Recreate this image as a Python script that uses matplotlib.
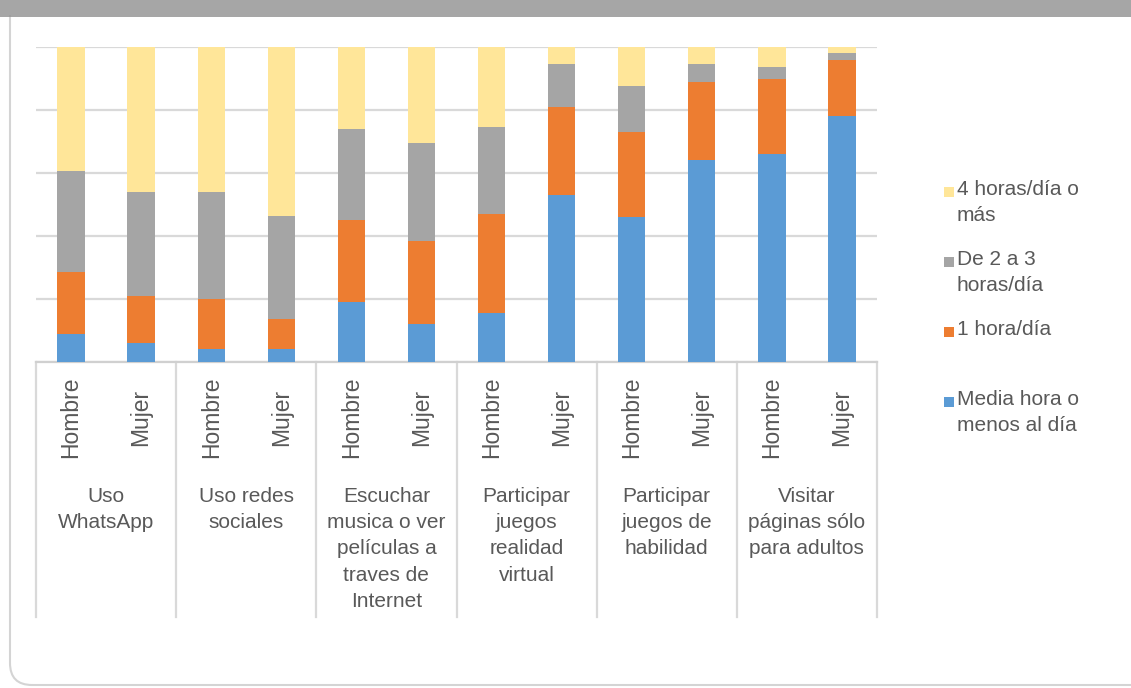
import matplotlib
matplotlib.use("Agg")
import matplotlib.pyplot as plt
import matplotlib.transforms as mtransforms
from matplotlib.patches import Rectangle, FancyBboxPatch
import numpy as np

plt.rcParams['font.family'] = ['Liberation Sans', 'DejaVu Sans']

# Activities (top-level category) and sex (sub-category)
activities = ["Uso\nWhatsApp", "Uso redes\nsociales",
              "Escuchar\nmusica o ver\npelículas a\ntraves de\nInternet",
              "Participar\njuegos\nrealidad\nvirtual",
              "Participar\njuegos de\nhabilidad",
              "Visitar\npáginas sólo\npara adultos"]
sexes = ["Hombre", "Mujer"]

# Percentage of respondents per time band, one value per bar (Hombre, Mujer, ...)
media_hora = [9, 6, 4, 4, 19, 12, 15.5, 53, 46, 64, 66, 78]
una_hora = [19.5, 15, 16, 9.5, 26, 26.5, 31.5, 28, 27, 25, 24, 18]
dos_tres_horas = [32, 33, 34, 33, 29, 31, 27.5, 13.5, 14.5, 5.5, 3.5, 2]
cuatro_horas = [39.5, 46, 46, 53.5, 26, 30.5, 25.5, 5.5, 12.5, 5.5, 6.5, 2]

series_labels = ["Media hora o\nmenos al día", "1 hora/día",
                 "De 2 a 3\nhoras/día", "4 horas/día o\nmás"]
series_colors = ["#5b9bd5", "#ed7d31", "#a5a5a5", "#ffe699"]

text_color = "#595959"
fs = 15
lsp = 1.48

W, H = 1131, 688
fig = plt.figure(figsize=(W / 100, H / 100), dpi=100)

# rounded card border and grey header strip
card = FancyBboxPatch((10, 3), W + 40, H + 20, boxstyle="round,pad=0,rounding_size=22",
                      transform=mtransforms.IdentityTransform(),
                      facecolor="white", edgecolor="#d4d4d4", linewidth=1.5, zorder=-5)
fig.add_artist(card)
fig.add_artist(Rectangle((0, 1 - 15 / H), 1, 15 / H, transform=fig.transFigure,
                         facecolor="#a6a6a6", edgecolor="none", zorder=-4))
fig.add_artist(plt.Line2D([0, 1], [1 - 15.5 / H, 1 - 15.5 / H], transform=fig.transFigure,
                          color="#959595", linewidth=1.2, zorder=-4))

ax = fig.add_axes([36 / W, 1 - 362 / H, (877 - 36) / W, 315 / H])
ax.patch.set_visible(False)

data = np.array([media_hora, una_hora, dos_tres_horas, cuatro_horas], dtype=float)
data = data / data.sum(axis=0) * 100
x = np.arange(data.shape[1])
bottom = np.zeros(data.shape[1])
for vals, color in zip(data, series_colors):
    ax.bar(x, vals, width=0.39, bottom=bottom, color=color, zorder=3)
    bottom += vals

ax.set_xlim(-0.5, len(x) - 0.5)
ax.set_ylim(0, 100)
ax.set_yticks([0, 20, 40, 60, 80, 100])
ax.yaxis.grid(True, color="#d9d9d9", linewidth=1.6)
ax.set_axisbelow(True)
for side in ["left", "right", "top"]:
    ax.spines[side].set_visible(False)
ax.spines["bottom"].set_color("#d0d0d0")
ax.spines["bottom"].set_linewidth(1.6)
ax.tick_params(left=False, bottom=False, labelleft=False, labelbottom=False)

# two-level category axis drawn by hand
trans = mtransforms.blended_transform_factory(ax.transData, ax.transAxes)
sep_bottom = (362 - 617) / 315
for b in np.arange(-0.5, len(x), 2):
    ax.plot([b, b], [0, sep_bottom], transform=trans, color="#d9d9d9",
            linewidth=1.6, clip_on=False)

sub_y = (362 - 417) / 315
for i in x:
    ax.text(i, sub_y, sexes[i % 2], transform=trans, rotation=90, ha="center",
            va="center", fontsize=16.5, color=text_color)

grp_y = (362 - 487) / 315
for g, label in enumerate(activities):
    ax.text(2 * g + 0.5, grp_y, label, transform=trans, ha="center", va="top",
            fontsize=fs, color=text_color, linespacing=lsp, multialignment="center")

# legend, top entry is the last stacked series
for k, idx in enumerate([3, 2, 1, 0]):
    yc = 192 + 70 * k
    fig.add_artist(Rectangle((944, H - yc - 5), 10, 10,
                             transform=mtransforms.IdentityTransform(),
                             facecolor=series_colors[idx], edgecolor="none"))
    fig.text(957 / W, 1 - (yc - 12) / H, series_labels[idx], ha="left", va="top",
             fontsize=fs, color=text_color, linespacing=lsp)

fig.savefig("out.png", dpi=100)
